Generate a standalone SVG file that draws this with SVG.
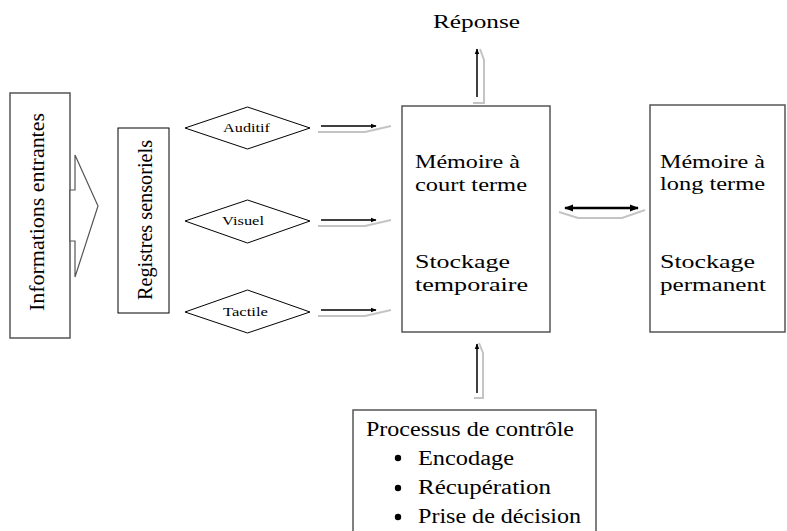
<svg xmlns="http://www.w3.org/2000/svg" width="787" height="531" viewBox="0 0 787 531">
<style>
text{font-family:"Liberation Serif","Times New Roman",serif;fill:#000}
.box{fill:#fff;stroke:#555;stroke-width:1.5}
.bbox{fill:#fff;stroke:#000;stroke-width:1}
.dia{fill:#fff;stroke:#000;stroke-width:1}
.blk{stroke:#000;stroke-width:1.5;fill:none}
.gry{stroke:#c4c4c4;stroke-width:2;fill:none}
.t18{font-size:18px}
.t13{font-size:13px}
.t20{font-size:20px}
</style>
<defs>
<marker id="ah" viewBox="0 0 10 10" refX="9" refY="5" markerWidth="6" markerHeight="6" orient="auto-start-reverse" markerUnits="userSpaceOnUse">
<path d="M0,1 L10,5 L0,9 z" fill="#000"/>
</marker>
<marker id="ah2" viewBox="0 0 10 10" refX="9" refY="5" markerWidth="9" markerHeight="9" orient="auto-start-reverse" markerUnits="userSpaceOnUse">
<path d="M0,1 L10,5 L0,9 z" fill="#000"/>
</marker>
</defs>

<g id="informations">
<rect class="box" x="10" y="93" width="60" height="245" stroke="#666"/>
<text font-size="22" transform="translate(44,311) rotate(-90)" textLength="198" lengthAdjust="spacingAndGlyphs">Informations entrantes</text>
<polygon points="70,190 75,190 75,155 98,206 75,277 75,241 70,241" fill="#fff" stroke="#555" stroke-width="1.2"/>
</g>

<g id="registres">
<rect class="bbox" x="118" y="128" width="51" height="185"/>
<text font-size="21" transform="translate(152,300) rotate(-90)" textLength="160" lengthAdjust="spacingAndGlyphs">Registres sensoriels</text>
</g>

<g id="auditif">
<polygon class="dia" points="185,128 247.5,107 310,128 247.5,149"/>
<text class="t13" x="223" y="132" textLength="47" lengthAdjust="spacingAndGlyphs">Auditif</text>
</g>
<g id="visuel">
<polygon class="dia" points="185,221 247.5,200 310,221 247.5,243"/>
<text class="t13" x="222" y="225" textLength="42" lengthAdjust="spacingAndGlyphs">Visuel</text>
</g>
<g id="tactile">
<polygon class="dia" points="185,312 247.5,290 310,312 247.5,333"/>
<text class="t13" x="223" y="316" textLength="45" lengthAdjust="spacingAndGlyphs">Tactile</text>
</g>

<g id="mct">
<rect class="box" x="402" y="106" width="148" height="226"/>
<text class="t18" x="415" y="168" textLength="105" lengthAdjust="spacingAndGlyphs">Mémoire à</text>
<text class="t18" x="415" y="191" textLength="112" lengthAdjust="spacingAndGlyphs">court terme</text>
<text class="t18" x="415" y="268" textLength="95" lengthAdjust="spacingAndGlyphs">Stockage</text>
<text class="t18" x="415" y="291" textLength="113" lengthAdjust="spacingAndGlyphs">temporaire</text>
</g>

<g id="mlt">
<rect class="box" x="650" y="105" width="135" height="227"/>
<text class="t18" x="660" y="168" textLength="105" lengthAdjust="spacingAndGlyphs">Mémoire à</text>
<text class="t18" x="660" y="190" textLength="105" lengthAdjust="spacingAndGlyphs">long terme</text>
<text class="t18" x="660" y="268" textLength="95" lengthAdjust="spacingAndGlyphs">Stockage</text>
<text class="t18" x="660" y="291" textLength="106" lengthAdjust="spacingAndGlyphs">permanent</text>
</g>

<g id="reponse">
<text x="433" y="28" font-size="19" textLength="87" lengthAdjust="spacingAndGlyphs">Réponse</text>
</g>

<g id="processus">
<rect class="box" x="353" y="410" width="243" height="130"/>
<text class="t20" x="366" y="436" textLength="208" lengthAdjust="spacingAndGlyphs">Processus de contrôle</text>
<circle cx="398" cy="458" r="3.2" fill="#000"/>
<text class="t20" x="418" y="465" textLength="96" lengthAdjust="spacingAndGlyphs">Encodage</text>
<circle cx="398" cy="488" r="3.2" fill="#000"/>
<text class="t20" x="418" y="494" textLength="133" lengthAdjust="spacingAndGlyphs">Récupération</text>
<circle cx="398" cy="517" r="3.2" fill="#000"/>
<text class="t20" x="418" y="523" textLength="163" lengthAdjust="spacingAndGlyphs">Prise de décision</text>
</g>

<g id="connectors">
<path class="gry" d="M318,132 H365 L391,126"/>
<line class="blk" x1="321" y1="126" x2="376" y2="126" marker-end="url(#ah)"/>
<path class="gry" d="M318,226 H365 L391,220"/>
<line class="blk" x1="321" y1="220" x2="376" y2="220" marker-end="url(#ah)"/>
<path class="gry" d="M318,316 H365 L391,310"/>
<line class="blk" x1="321" y1="310" x2="376" y2="310" marker-end="url(#ah)"/>
<path class="gry" d="M559,212 L578,218 H622 L645,210"/>
<line x1="565" y1="208" x2="638" y2="208" stroke="#000" stroke-width="2.5" marker-start="url(#ah2)" marker-end="url(#ah2)"/>
<path class="gry" d="M473,103 H484 V60 L480,49"/>
<line class="blk" x1="477" y1="97" x2="477" y2="49" marker-end="url(#ah)"/>
<path class="gry" d="M474,398 H483 V353 L479,343"/>
<line class="blk" x1="477" y1="393" x2="477" y2="344" marker-end="url(#ah)"/>
</g>
</svg>
